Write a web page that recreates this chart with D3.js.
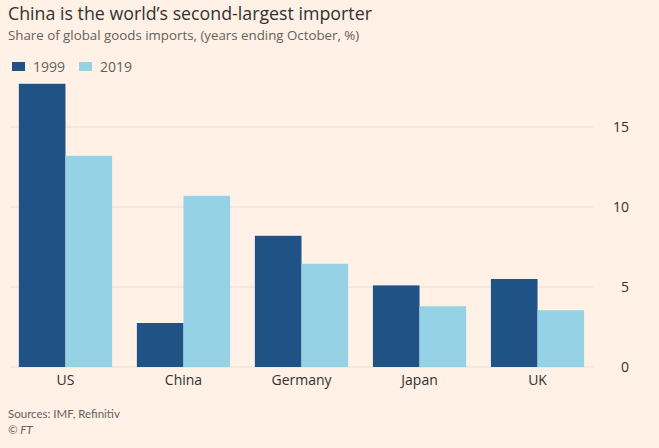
<!DOCTYPE html>
<html><head><meta charset="utf-8">
<script src="https://cdn.jsdelivr.net/npm/d3@7"></script>
<style>
html,body{margin:0;padding:0;background:#fff1e5;}
svg{display:block;font-family:"Open Sans","Noto Sans",sans-serif;}
</style></head>
<body>
<svg id="c" width="659" height="448"></svg>
<script>
const categories = ["US", "China", "Germany", "Japan", "UK"];
const seriesNames = ["1999", "2019"];
const values1999 = [17.7, 2.75, 8.2, 5.1, 5.5];
const values2019 = [13.2, 10.7, 6.45, 3.8, 3.55];
const yTicks = [0, 5, 10, 15];
const colors = ["#1f5285", "#96d2e6"];

const svg = d3.select("#c");
svg.append("rect").attr("width", 659).attr("height", 448).attr("fill", "#fff1e5");

const x = d3.scaleBand().domain(categories).range([10, 593]).paddingInner(0.21).paddingOuter(0.075);
const xs = d3.scaleBand().domain(seriesNames).range([0, x.bandwidth()]);
const y = d3.scaleLinear().domain([0, 15]).range([367, 127]);

// gridlines
svg.append("g").selectAll("line").data(yTicks).join("line")
  .attr("x1", 10).attr("x2", 593)
  .attr("y1", d => y(d)).attr("y2", d => y(d))
  .attr("stroke", "#e9ddd2").attr("stroke-width", 1);

// y axis labels (right)
const yAxis = d3.axisRight(y).tickValues(yTicks).tickSize(0).tickPadding(0);
const ya = svg.append("g").attr("transform", "translate(629,0)").call(yAxis);
ya.select(".domain").remove();
ya.selectAll("text").attr("text-anchor", "end").attr("font-size", 14).attr("fill", "#33302e")
  .attr("font-family", "'Open Sans', sans-serif").attr("dy", "0.35em");

const data = categories.map((c, i) => ({c, v: [values1999[i], values2019[i]]}));
const g = svg.append("g");
g.selectAll("g").data(data).join("g")
  .attr("transform", d => `translate(${x(d.c)},0)`)
  .selectAll("rect").data(d => d.v.map((v, j) => ({s: seriesNames[j], v, j})))
  .join("rect")
  .attr("x", d => xs(d.s)).attr("width", xs.bandwidth())
  .attr("y", d => y(d.v)).attr("height", d => y(0) - y(d.v))
  .attr("fill", d => colors[d.j]);

// x axis labels
const xAxis = d3.axisBottom(x).tickSize(0).tickPadding(0);
const xa = svg.append("g").attr("transform", "translate(0,375)").call(xAxis);
xa.select(".domain").remove();
xa.selectAll("text").attr("font-size", 14).attr("fill", "#33302e")
  .attr("font-family", "'Open Sans', sans-serif").attr("dy", "0.71em");

// title
svg.append("text").attr("x", 8).attr("y", 20).text("China is the world\u2019s second-largest importer")
  .attr("font-size", 17.8).attr("fill", "#33302e");
svg.append("text").attr("x", 8).attr("y", 40).text("Share of global goods imports, (years ending October, %)")
  .attr("font-size", 13.3).attr("fill", "#66605c");

// legend
const leg = svg.append("g");
seriesNames.forEach((s, i) => {
  const lx = [12, 79][i];
  leg.append("rect").attr("x", lx).attr("y", 62).attr("width", 13).attr("height", 9).attr("fill", colors[i]);
  leg.append("text").attr("x", lx + 21).attr("y", 71.5).text(s).attr("font-size", 14).attr("fill", "#66605c");
});

// source
svg.append("text").attr("x", 8).attr("y", 418).text("Sources: IMF, Refinitiv").attr("font-size", 11.5)
  .attr("font-family", "Lato, sans-serif").attr("fill", "#66605c");
svg.append("text").attr("x", 8).attr("y", 434).text("\u00a9 FT").attr("font-size", 11.5)
  .attr("font-family", "Lato, sans-serif").attr("fill", "#66605c").attr("font-style", "italic");
</script>
</body></html>
